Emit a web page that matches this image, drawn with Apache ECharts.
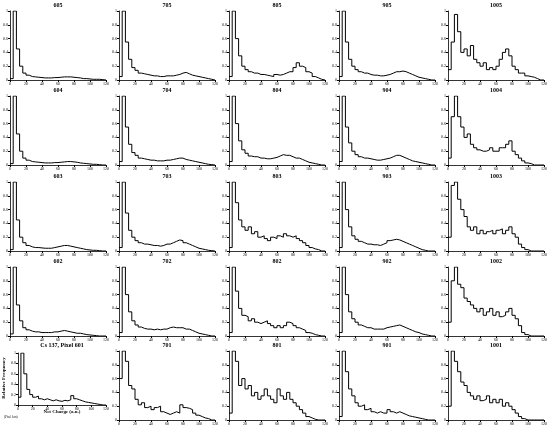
<!DOCTYPE html>
<html style="height:100%">
<head>
<meta charset="utf-8">
<script src="https://cdn.jsdelivr.net/npm/echarts@6/dist/echarts.min.js"></script>
</head>
<body style="height:100%;margin:0;background:#fff">
<div id="main" style="width:550px;height:426px"></div>
<script>
// bin width 4 units, 30 bins from 0 to 120
var binWidth = 4;
var titles = [
  ['605', '705', '805', '905', '1005'],
  ['604', '704', '804', '904', '1004'],
  ['603', '703', '803', '903', '1003'],
  ['602', '702', '802', '902', '1002'],
  ['Cs 137, Pixel 601', '701', '801', '901', '1001']
];
var xTicks = [0, 20, 40, 60, 80, 100, 120];
var yTicks = [0, 0.2, 0.4, 0.6, 0.8, 1];
var counts = {
  '605': [0.02,1,0.45,0.2,0.1,0.07,0.05,0.045,0.04,0.035,0.03,0.03,0.03,0.035,0.035,0.04,0.045,0.045,0.045,0.04,0.035,0.03,0.02,0.02,0.015,0.01,0.01,0.01,0.005,0],
  '705': [0.05,1,0.55,0.3,0.18,0.14,0.1,0.09,0.08,0.07,0.06,0.06,0.05,0.05,0.06,0.06,0.06,0.07,0.08,0.1,0.11,0.09,0.07,0.06,0.05,0.04,0.03,0.02,0.01,0],
  '805': [0.05,1,0.6,0.35,0.2,0.15,0.12,0.1,0.1,0.08,0.08,0.07,0.06,0.05,0.08,0.07,0.08,0.1,0.12,0.12,0.18,0.25,0.2,0.18,0.12,0.1,0.05,0.03,0.01,0],
  '905': [0.05,1,0.55,0.3,0.2,0.15,0.12,0.1,0.1,0.08,0.07,0.07,0.06,0.06,0.07,0.08,0.1,0.12,0.12,0.13,0.12,0.1,0.08,0.06,0.04,0.03,0.02,0.01,0,0],
  '1005': [0.15,0.55,0.95,0.7,0.4,0.45,0.35,0.5,0.3,0.25,0.2,0.25,0.15,0.18,0.15,0.2,0.3,0.4,0.45,0.35,0.2,0.15,0.1,0.1,0.06,0.05,0.04,0.02,0,0],
  '604': [0.02,1,0.45,0.2,0.1,0.07,0.05,0.045,0.04,0.035,0.03,0.03,0.03,0.035,0.035,0.04,0.045,0.05,0.05,0.045,0.04,0.03,0.025,0.02,0.015,0.01,0.01,0.005,0,0],
  '704': [0.05,1,0.55,0.3,0.18,0.14,0.1,0.09,0.08,0.07,0.07,0.06,0.06,0.06,0.07,0.07,0.08,0.09,0.1,0.1,0.08,0.07,0.06,0.05,0.04,0.03,0.02,0.01,0.005,0],
  '804': [0.05,1,0.6,0.35,0.22,0.17,0.13,0.12,0.12,0.1,0.1,0.09,0.09,0.1,0.11,0.13,0.15,0.14,0.14,0.12,0.1,0.1,0.08,0.06,0.04,0.03,0.02,0.01,0,0],
  '904': [0.05,1,0.55,0.32,0.2,0.15,0.12,0.1,0.1,0.09,0.08,0.07,0.07,0.08,0.09,0.1,0.12,0.14,0.14,0.12,0.1,0.08,0.06,0.05,0.04,0.03,0.02,0.01,0,0],
  '1004': [0.1,0.7,1,0.7,0.55,0.4,0.45,0.3,0.25,0.22,0.2,0.2,0.22,0.25,0.2,0.2,0.25,0.25,0.3,0.35,0.2,0.15,0.1,0.06,0.03,0.02,0,0,0,0],
  '603': [0.02,1,0.45,0.2,0.12,0.08,0.06,0.05,0.05,0.045,0.04,0.04,0.04,0.05,0.06,0.07,0.08,0.08,0.07,0.06,0.05,0.04,0.03,0.02,0.015,0.01,0.01,0.005,0,0],
  '703': [0.05,1,0.55,0.3,0.2,0.15,0.12,0.1,0.1,0.09,0.08,0.08,0.07,0.08,0.1,0.1,0.12,0.14,0.16,0.15,0.12,0.1,0.08,0.06,0.04,0.03,0.02,0.01,0.005,0],
  '803': [0.05,1,0.7,0.45,0.35,0.3,0.35,0.25,0.28,0.2,0.22,0.18,0.15,0.2,0.18,0.22,0.2,0.25,0.22,0.2,0.22,0.18,0.15,0.12,0.08,0.05,0.03,0.02,0,0],
  '903': [0.05,1,0.6,0.35,0.22,0.17,0.14,0.12,0.1,0.1,0.09,0.09,0.08,0.1,0.12,0.15,0.16,0.17,0.16,0.14,0.12,0.1,0.08,0.06,0.04,0.02,0.01,0,0,0],
  '1003': [0.2,0.95,1,0.75,0.6,0.5,0.35,0.3,0.35,0.25,0.3,0.25,0.28,0.3,0.25,0.3,0.32,0.25,0.3,0.35,0.25,0.2,0.1,0.05,0.02,0,0,0,0,0],
  '602': [0.03,1,0.45,0.22,0.12,0.09,0.07,0.06,0.06,0.05,0.05,0.05,0.05,0.06,0.06,0.07,0.08,0.07,0.06,0.05,0.04,0.04,0.03,0.02,0.015,0.01,0.005,0,0,0],
  '702': [0.05,1,0.6,0.35,0.22,0.16,0.13,0.11,0.1,0.1,0.09,0.1,0.09,0.1,0.1,0.12,0.13,0.12,0.12,0.12,0.1,0.1,0.08,0.06,0.04,0.03,0.02,0.01,0,0],
  '802': [0.05,1,0.65,0.4,0.3,0.28,0.22,0.25,0.2,0.18,0.2,0.22,0.18,0.15,0.12,0.15,0.12,0.15,0.2,0.18,0.15,0.12,0.1,0.08,0.05,0.04,0.02,0.01,0,0],
  '902': [0.05,1,0.6,0.35,0.25,0.2,0.16,0.14,0.12,0.12,0.1,0.1,0.1,0.1,0.12,0.13,0.14,0.15,0.16,0.14,0.12,0.1,0.08,0.06,0.05,0.03,0.02,0.01,0,0],
  '1002': [0.2,0.8,1,0.75,0.7,0.55,0.5,0.45,0.4,0.35,0.4,0.3,0.35,0.4,0.3,0.35,0.28,0.3,0.35,0.4,0.3,0.25,0.15,0.05,0.02,0,0,0,0,0],
  'Cs 137, Pixel 601': [0.15,1,0.6,0.3,0.2,0.15,0.17,0.12,0.1,0.12,0.1,0.08,0.1,0.08,0.07,0.09,0.08,0.1,0.18,0.12,0.1,0.08,0.06,0.05,0.04,0.03,0.02,0.01,0,0],
  '701': [0.6,1,0.85,0.5,0.45,0.3,0.22,0.25,0.18,0.2,0.15,0.18,0.2,0.12,0.1,0.08,0.1,0.12,0.1,0.22,0.18,0.17,0.15,0.1,0.07,0.05,0.03,0.02,0,0],
  '801': [0.1,1,0.85,0.5,0.6,0.45,0.5,0.35,0.4,0.3,0.35,0.45,0.35,0.3,0.25,0.45,0.35,0.3,0.4,0.3,0.25,0.2,0.15,0.1,0.05,0.03,0.01,0,0,0],
  '901': [0.05,1,0.7,0.45,0.35,0.25,0.2,0.22,0.15,0.17,0.12,0.1,0.12,0.1,0.1,0.15,0.12,0.1,0.12,0.1,0.08,0.06,0.05,0.04,0.03,0.02,0.01,0,0,0],
  '1001': [0.2,1,0.85,0.7,0.55,0.5,0.4,0.35,0.3,0.35,0.28,0.3,0.35,0.25,0.3,0.25,0.3,0.2,0.25,0.2,0.15,0.1,0.05,0.02,0,0,0,0,0,0]
};

var colX = [10, 119, 229, 339, 448];
var rowY = [11, 96, 182, 267, 351];
var plotW = 96, plotH = 69;

var grids = [], xAxes = [], yAxes = [], series = [], texts = [];
var k = 0;
for (var r = 0; r < 5; r++) {
  for (var c = 0; c < 5; c++) {
    var name = titles[r][c];
    var small = (r === 4 && c === 0);
    var gl = small ? 18 : colX[c], gw = small ? 88 : plotW, gh = small ? 52 : plotH;
    grids.push({ left: gl, top: rowY[r] + (small ? 2 : 0), width: gw, height: gh });
    xAxes.push({
      gridIndex: k, type: 'value', min: 0, max: 120, interval: 20,
      axisLine: { lineStyle: { color: '#000', width: 0.8 } },
      axisTick: { length: 2, lineStyle: { color: '#000' } },
      axisLabel: { fontSize: 4, color: '#000', margin: 2, fontFamily: 'Liberation Serif' },
      splitLine: { show: false }
    });
    yAxes.push({
      gridIndex: k, type: 'value', min: 0, max: 1, interval: 0.2,
      axisLine: { show: true, lineStyle: { color: '#000', width: 0.8 } },
      axisTick: { show: true, length: 2, lineStyle: { color: '#000' } },
      axisLabel: { fontSize: 4, color: '#000', margin: 2, fontFamily: 'Liberation Serif',
        formatter: function (v) { return +v.toFixed(1); } },
      splitLine: { show: false }
    });
    var pts = counts[name].map(function (v, i) { return [i * binWidth, v]; });
    pts.push([120, 0]);
    series.push({
      type: 'line', step: 'end', xAxisIndex: k, yAxisIndex: k, data: pts,
      symbol: 'none', lineStyle: { color: '#000', width: 1 }
    });
    texts.push({
      type: 'text', x: gl + gw / 2, y: rowY[r] - 9,
      style: { text: name, font: 'bold 6px "Liberation Serif"', fill: '#000', align: 'center' }
    });
    k++;
  }
}
texts.push({ type: 'text', x: 4, y: 378, rotation: Math.PI / 2,
  style: { text: 'Relative Frequency', font: 'bold 5px "Liberation Serif"', fill: '#000', align: 'center', verticalAlign: 'middle' } });
texts.push({ type: 'text', x: 62, y: 409,
  style: { text: 'Net Charge (a.u.)', font: 'bold 5px "Liberation Serif"', fill: '#000', align: 'center' } });
texts.push({ type: 'text', x: 4, y: 416,
  style: { text: '(Pixel b.m)', font: '3px "Liberation Serif"', fill: '#000' } });

var myChart = echarts.init(document.getElementById('main'));
myChart.setOption({
  animation: false,
  grid: grids, xAxis: xAxes, yAxis: yAxes, series: series, graphic: texts
});
</script>
</body>
</html>
